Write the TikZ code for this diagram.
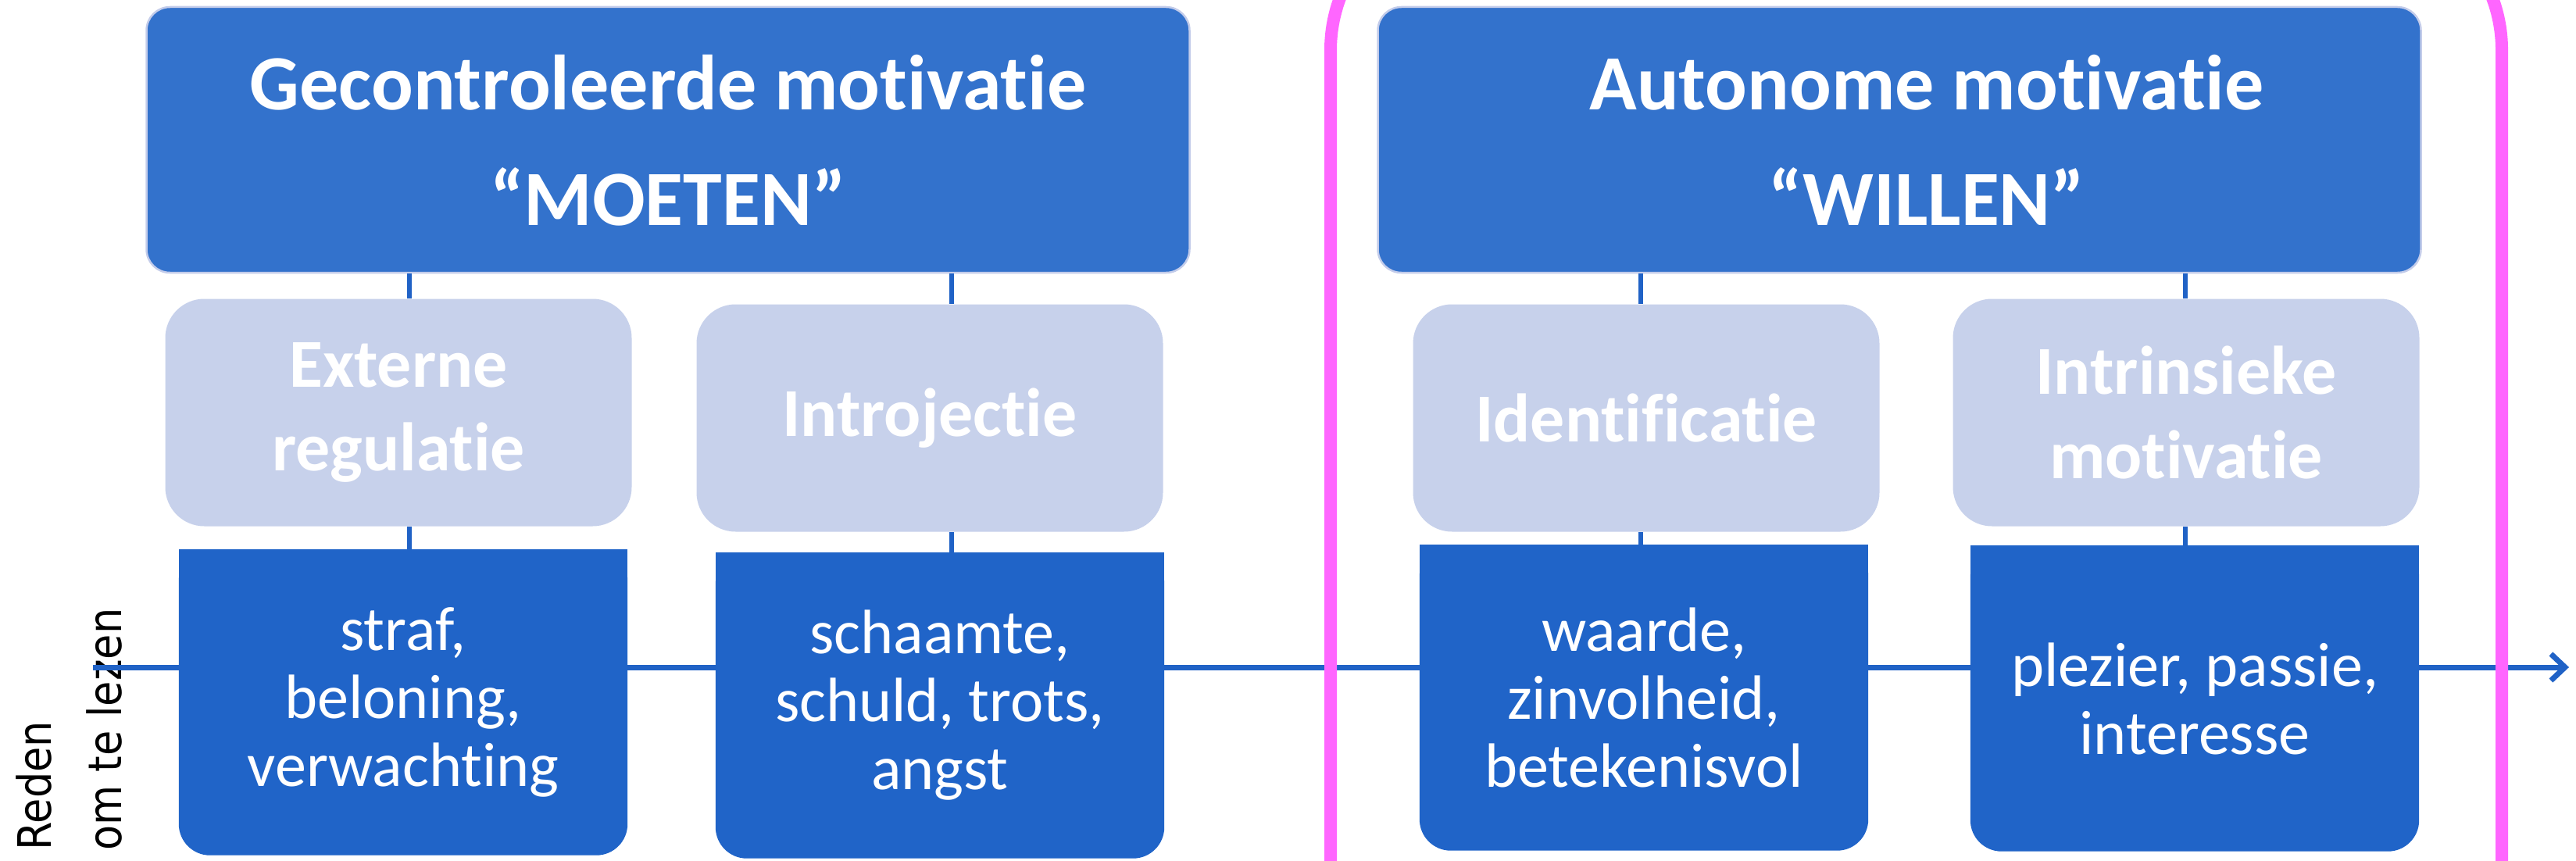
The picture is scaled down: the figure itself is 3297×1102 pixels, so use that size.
\documentclass[tikz,border=0pt]{standalone}
\usepackage{fontspec}
\setmainfont{Carlito}[Ligatures={NoCommon}]
\newfontfamily\redenfont[FakeStretch=0.89]{DejaVu Sans}
\usetikzlibrary{arrows.meta, backgrounds}
\definecolor{topblue}{HTML}{3372CC}
\definecolor{topedge}{HTML}{C3CCEA}
\definecolor{typegrey}{HTML}{C7D1EB}
\definecolor{reasonblue}{HTML}{2064C8}
\definecolor{lineblue}{HTML}{2062C6}
\definecolor{framepink}{HTML}{FF66FF}

\begin{document}
\begin{tikzpicture}[x=0.1mm, y=-0.1mm,
    topbox/.style={rectangle, rounded corners=3mm, fill=topblue, draw=topedge, line width=0.25mm, minimum width=133.5mm, minimum height=34mm, inner sep=0pt, align=center, text=white, text depth=0pt, font=\fontsize{28.5}{42.1}\selectfont\bfseries},
    typebox/.style={rectangle, rounded corners=5mm, fill=typegrey, minimum width=59.7mm, minimum height=29.1mm, inner sep=0pt, align=center, text=white, font=\fontsize{25}{30.7}\selectfont\bfseries},
    reasonbox/.style={rectangle, minimum width=57.3mm, minimum height=39mm, inner sep=0pt, align=center, text=white, font=\fontsize{22.8}{24.75}\selectfont},
    link/.style={draw=lineblue, line width=0.55mm},
    flow/.style={draw=lineblue, line width=0.7mm},
    arrow/.style={flow, -{Straight Barb[length=1.8mm, width=3.4mm]}}
]
\useasboundingbox (0,0) rectangle (3297,1102);
\clip (0,0) rectangle (3297,1102);

% motivation groups
\node[topbox] (ctrl) at (855,179) {Gecontroleerde motivatie\\“MOETEN”};
\node[topbox] (auto) at (2431,179) {\hspace*{7mm}Autonome motivatie\\\hspace*{7mm}“WILLEN”};

% regulation types
\node[typebox] (extern) at (510,528) {Externe\\regulatie};
\node[typebox] (introj) at (1190,535) {Introjectie};
\node[typebox] (ident) at (2107,535) {Identificatie};
\node[typebox] (intrins) at (2798,528) {Intrinsieke\\motivatie};

% reasons
\node[reasonbox] (straf) at (516,899) {straf,\\beloning,\\verwachting};
\node[reasonbox] (schaamte) at (1203,903) {schaamte,\\schuld, trots,\\angst};
\node[reasonbox] (waarde) at (2104,893) {waarde,\\zinvolheid,\\betekenisvol};
\node[reasonbox] (plezier) at (2809,894) {plezier, passie,\\interesse};

\begin{scope}[on background layer]
\foreach \n in {straf, schaamte, waarde, plezier} {
  \fill[reasonblue, rounded corners=4mm] (\n.north west) rectangle (\n.south east);
  \fill[reasonblue] (\n.north west) rectangle (\n.east);
}
\end{scope}

\node[rotate=90, anchor=west, align=left, inner sep=0pt, font=\redenfont\fontsize{16.8}{25.6}\selectfont] (reden) at (88,1089) {Reden\\om te lezen};

\coordinate (c1) at (524,0);
\coordinate (c2) at (1218,0);
\coordinate (c3) at (2100,0);
\coordinate (c4) at (2797,0);
\draw[link] (ctrl.south -| c1) -- (extern.north -| c1);
\draw[link] (extern.south -| c1) -- (straf.north -| c1);
\draw[link] (ctrl.south -| c2) -- (introj.north -| c2);
\draw[link] (introj.south -| c2) -- (schaamte.north -| c2);
\draw[link] (auto.south -| c3) -- (ident.north -| c3);
\draw[link] (ident.south -| c3) -- (waarde.north -| c3);
\draw[link] (auto.south -| c4) -- (intrins.north -| c4);
\draw[link] (intrins.south -| c4) -- (plezier.north -| c4);

\coordinate (start) at (119,854);
\coordinate (finish) at (3288,854);
\draw[flow] (start) -- (straf.west |- start);
\draw[flow] (straf.east |- start) -- (schaamte.west |- start);
\draw[flow] (schaamte.east |- start) -- (waarde.west |- start);
\draw[flow] (waarde.east |- start) -- (plezier.west |- start);
\draw[arrow] (plezier.east |- start) -- (finish);

% willen frame
\draw[framepink, line width=1.6mm, rounded corners=19mm] (1703,-126) rectangle (3202,1300);

\end{tikzpicture}
\end{document}
